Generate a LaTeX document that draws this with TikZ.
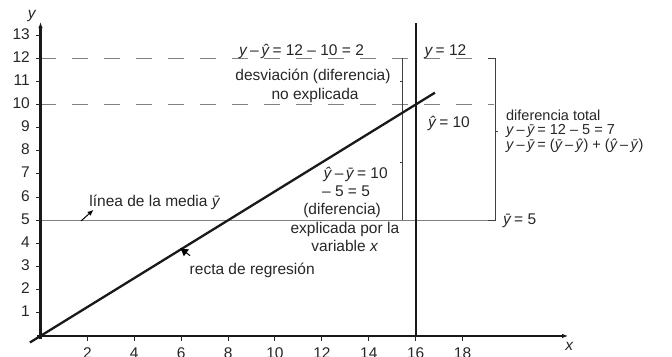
\documentclass[tikz,border=0pt]{standalone}
\usepackage{fontspec}
\setmainfont{Liberation Sans}
\usetikzlibrary{arrows.meta}
\newcommand\vy{\textit{y}}
\newcommand\vyh{\textit{ŷ}}
\newcommand\vyb{\textit{ȳ}}
\begin{document}
\begin{tikzpicture}[x=23.45pt,y=23.15pt,
  font=\fontsize{15.5}{18}\selectfont,
  ax/.style={line width=2.3pt,black!90},
  tickln/.style={line width=1pt,black!85},
  thinln/.style={line width=0.8pt,black!50},
  dashln/.style={line width=0.8pt,black!50,dash pattern=on 15.5pt off 16.5pt},
  brk/.style={line width=0.7pt,black!75},
  lbl/.style={inner sep=0pt,text=black!85,text height=11pt,text depth=3pt},
  tight/.style={font=\fontsize{14.5}{16}\selectfont,text height=9pt,text depth=2pt},
  tip/.style={-{Latex[length=6pt,width=4.5pt]}}]
\useasboundingbox (-1.727,-0.907) rectangle (26.93,14.514);
% reference lines
\draw[dashln] (0,12) -- (19.34,12);
\draw[dashln] (0,10) -- (19.34,10);
\draw[thinln] (0,5) -- (19.38,5);
% brackets
\draw[brk] (15.44,12) -- (15.44,10);
\draw[brk] (15.44,11) -- ++(-3pt,0pt);
\draw[brk] (15.44,10) -- (15.44,5);
\draw[brk] (15.44,7.5) -- ++(-3pt,0pt);
\draw[brk] (19.1,12) -- (19.38,12) -- (19.38,5) -- (19.1,5);
\draw[brk] (19.38,8.85) -- ++(3pt,0pt);
% axes
\coordinate (ybot) at (0,-0.15);
\coordinate (ytop) at (0,13.56);
\coordinate (xlft) at (-0.15,0);
\coordinate (xrgt) at (22.5,0);
\draw[ax,tip] (ybot) -- (ytop);
\draw[ax,tip] (xlft) -- (xrgt);
\node[lbl] (ylab) at (-0.36,13.87) {\vy};
\node[lbl] (xlab) at (22.56,-0.45) {\textit{x}};
\foreach \i in {1,...,13} {
  \draw[tickln] (-0.18,\i) -- (0,\i);
  \node[lbl,anchor=east] (ty\i) at (-0.45,\i) {\i};
}
\foreach \i in {2,4,...,18} {
  \draw[tickln] (\i,0) -- (\i,-0.2);
  \node[lbl,anchor=north,text height=11pt] (tx\i) at (\i,-0.48) {\i};
}
% vertical line x = 16
\coordinate (vbot) at (16,0);
\coordinate (vtop) at (16,13.52);
\draw[ax] (vbot) -- (vtop);
% regression line
\coordinate (rs) at (-0.45,-0.28);
\coordinate (re) at (16.82,10.51);
\draw[ax] (rs) -- (re);
% labels
\node[lbl] (eqa) at (11.13,12.31) {\vy\,–\,\vyh\,= 12 – 10 = 2};
\node[lbl] (y12) at (17.27,12.31) {\vy\,= 12};
\node[lbl] (desv) at (11.62,11.23) {desviación (diferencia)};
\node[lbl] (noex) at (11.71,10.37) {no explicada};
\node[lbl] (yh10) at (17.42,9.16) {\vyh\,= 10};
\node[lbl] (ex1) at (13.44,6.99) {\vyh\,–\,\vyb\,= 10};
\node[lbl] (ex2) at (13.03,6.19) {– 5 = 5};
\node[lbl] (ex3) at (12.86,5.40) {(diferencia)};
\node[lbl] (ex4) at (12.98,4.61) {explicada por la};
\node[lbl] (ex5) at (12.98,3.81) {variable \textit{x}};
\node[lbl,anchor=east] (recta) at (11.70,2.81) {recta de regresión};
\node[lbl,anchor=west] (yb5) at (19.72,4.97) {\vyb\,= 5};
\node[lbl,tight,anchor=west] (tot1) at (19.85,9.46) {diferencia total};
\node[lbl,tight,anchor=west] (tot2) at (19.85,8.84) {\vy\,–\,\vyb\,= 12 – 5 = 7};
\node[lbl,tight,anchor=west] (tot3) at (19.85,8.22) {\vy\,–\,\vyb\,= (\vyb\,–\,\vyh) + (\vyh\,–\,\vyb)};
\node[lbl,anchor=west] (media) at (2.08,5.76) {línea de la media \vyb};
% pointers
\coordinate (pm1) at (1.73,4.97);
\coordinate (pm2) at (2.26,5.45);
\draw[line width=1pt,black,-{Latex[length=6pt,width=5pt]}] (pm1) -- (pm2);
\coordinate (pr1) at (6.38,3.47);
\coordinate (pr2) at (5.95,3.80);
\draw[line width=1pt,black,-{Latex[length=8pt,width=9pt]}] (pr1) -- (pr2);
\end{tikzpicture}
\end{document}
